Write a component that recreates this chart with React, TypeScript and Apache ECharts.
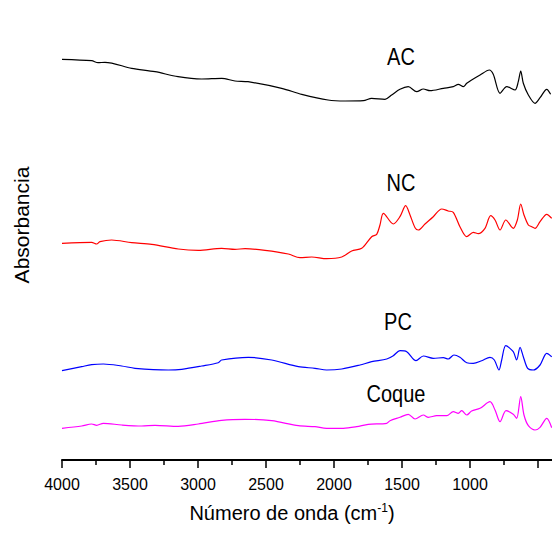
import React, { useEffect, useRef } from "react";
import * as echarts from "echarts";

// X axis ticks (wavenumber, cm-1)
const TICK_LABELS = [4000, 3500, 3000, 2500, 2000, 1500, 1000];

// AC (black)
const WN_AC = [4000, 3782, 3735, 3684, 3488, 3316, 3147, 2973, 2826, 2728, 2632, 2385, 2237, 2044, 1919, 1784, 1723, 1625, 1576, 1515, 1454, 1392, 1343, 1294, 1196, 1123, 1086, 1049, 1024, 988, 926, 858, 829, 779, 730, 669, 645, 627, 608, 571, 522, 485, 436, 407];
const AB_AC = [400.7, 399.3, 397.3, 397.7, 391.7, 388.3, 383.3, 381, 381.7, 379, 378.3, 371.7, 365.7, 360, 359, 359.3, 361.7, 360.7, 365, 370.7, 373.3, 368.3, 371, 369.3, 371.7, 373.3, 375.7, 373.3, 376.7, 380, 385, 390, 385.7, 366.7, 373.3, 370, 378.3, 389, 376.7, 365, 356.7, 362.3, 370.7, 365.7];

// NC (red)
const WN_NC = [4000, 3782, 3745, 3721, 3635, 3488, 3340, 3145, 2998, 2826, 2728, 2654, 2507, 2336, 2250, 2164, 2054, 1943, 1870, 1796, 1723, 1686, 1662, 1637, 1564, 1515, 1473, 1441, 1404, 1380, 1331, 1270, 1208, 1160, 1123, 1074, 1024, 976, 939, 890, 848, 816, 779, 737, 682, 652, 627, 603, 571, 546, 522, 485, 436, 399];
const AB_NC = [216.7, 217.7, 216, 218.3, 220, 217.3, 215.7, 211, 209.7, 211.7, 210.7, 211.3, 209.7, 206, 202.3, 203, 201.3, 203, 209, 211.7, 223.3, 225.7, 235, 246.7, 236, 243.3, 254.3, 245, 232.3, 230, 236, 243.3, 251, 249, 247.7, 233.3, 223.3, 227.7, 226.3, 231.7, 244.3, 240, 230, 240, 231.7, 240, 256, 245, 235, 233.3, 231.7, 238.3, 245.7, 241.7];

// PC (blue)
const WN_PC = [4000, 3855, 3782, 3696, 3561, 3463, 3218, 3120, 2973, 2851, 2826, 2630, 2458, 2262, 2140, 2054, 1943, 1809, 1723, 1612, 1564, 1515, 1465, 1397, 1343, 1270, 1196, 1160, 1118, 1074, 1024, 976, 914, 853, 821, 787, 767, 737, 682, 657, 632, 608, 576, 535, 485, 436, 399];
const AB_PC = [89.3, 93.3, 95.3, 96, 94, 91.7, 90, 90.7, 94, 97.3, 100, 102.7, 100, 93.3, 91.7, 90, 91, 95, 98.3, 101, 104.3, 109.3, 108.3, 99.3, 104, 101.7, 102.3, 101, 105, 102.7, 97.3, 96.7, 99.3, 102.7, 100, 90, 100, 114.3, 108.3, 100, 112.7, 103.3, 91.7, 90, 95, 106.7, 103.3];

// Coque (magenta)
const WN_CQ = [4000, 3855, 3782, 3745, 3696, 3561, 3414, 3316, 3145, 2998, 2826, 2654, 2458, 2262, 2140, 2054, 1932, 1833, 1748, 1612, 1588, 1515, 1454, 1404, 1343, 1306, 1245, 1171, 1123, 1086, 1061, 1024, 988, 926, 853, 816, 779, 735, 682, 657, 627, 603, 571, 522, 485, 436, 399];
const AB_CQ = [31.7, 34, 36, 34.7, 36.7, 35, 34, 34.7, 33.7, 36, 39.7, 40.7, 39.3, 34.3, 33.3, 31.7, 31.7, 33.3, 35.7, 36.7, 39.3, 42.7, 45.7, 41, 45, 42.7, 44.3, 44.3, 48.3, 46.7, 49.3, 45, 49, 51.7, 58.3, 50, 38.3, 49.3, 45.7, 41.7, 63.3, 45, 34.3, 30, 32.7, 41.7, 32.3];

const SERIES_NAMES = ["AC", "NC", "PC", "Coque"];
const COLORS = ["#000000", "#ff0000", "#0000ff", "#ff00ff"];

const zip = (w: number[], a: number[]) => w.map((x, i) => [x, a[i]]);

export default function App() {
  const ref = useRef<HTMLDivElement>(null);
  useEffect(() => {
    if (!ref.current) return;
    const chart = echarts.init(ref.current, null, { renderer: "svg" });
    const font = "'Liberation Sans', Arial, sans-serif";
    const datas = [zip(WN_AC, AB_AC), zip(WN_NC, AB_NC), zip(WN_PC, AB_PC), zip(WN_CQ, AB_CQ)];
    const labelPos = [
      { x: 401, y: 57 },
      { x: 401, y: 183 },
      { x: 398, y: 322 },
      { x: 396, y: 394 },
    ];
    chart.setOption({
      animation: false,
      grid: { left: 62, width: 544, top: 12, height: 448, containLabel: false, outerBoundsMode: "none" },
      xAxis: {
        type: "value",
        inverse: true,
        min: 0,
        max: 4000,
        interval: 500,
        axisLine: { show: true, lineStyle: { color: "#000", width: 2 } },
        axisTick: { show: true, length: 8, lineStyle: { color: "#000", width: 1.5 } },
        minorTick: { show: true, splitNumber: 2, length: 5, lineStyle: { color: "#000", width: 1.5 } },
        axisLabel: {
          show: true,
          formatter: (v: number) => (TICK_LABELS.includes(v) ? String(v) : ""),
          color: "#000",
          fontSize: 16,
          fontFamily: font,
          margin: 16,
        },
        splitLine: { show: false },
        name: "Número de onda (cm{sup|-1})",
        nameLocation: "middle",
        nameGap: 42,
        nameTextStyle: {
          color: "#000",
          fontSize: 20,
          fontFamily: font,
          padding: [0, 84, 0, 0],
          rich: { sup: { fontSize: 12, verticalAlign: "top", padding: [0, 0, 10, 0], fontFamily: font, color: "#000" } },
        },
      },
      yAxis: {
        type: "value",
        min: 0,
        max: 448,
        axisLine: { show: true, lineStyle: { color: "#000", width: 2 } },
        axisTick: { show: false },
        axisLabel: { show: false },
        splitLine: { show: false },
        name: "Absorbancia",
        nameLocation: "middle",
        nameGap: 30,
        nameTextStyle: { color: "#000", fontSize: 21, fontFamily: font, padding: [0, 0, 0, 22] },
      },
      series: datas.map((d, i) => ({
        name: SERIES_NAMES[i],
        type: "line",
        data: d,
        showSymbol: false,
        smooth: 0.3,
        lineStyle: { color: COLORS[i], width: 1.2 },
        itemStyle: { color: COLORS[i] },
      })),
      graphic: SERIES_NAMES.map((n, i) => ({
        type: "text",
        x: labelPos[i].x,
        y: labelPos[i].y,
        scaleY: 1.15,
        style: {
          text: n,
          fill: "#000",
          font: `20px ${font}`,
          textAlign: "center",
          textVerticalAlign: "middle",
        },
      })),
    });
    return () => chart.dispose();
  }, []);
  return <div ref={ref} style={{ width: 552, height: 536, position: "absolute", left: 0, top: 0 }} />;
}
